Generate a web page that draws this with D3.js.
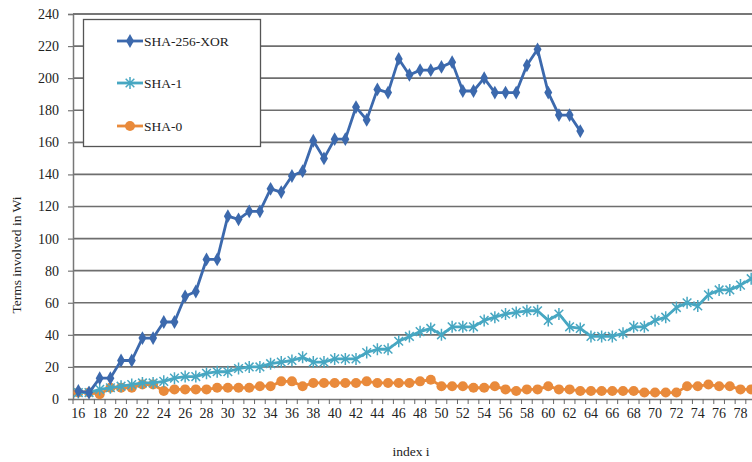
<!DOCTYPE html>
<html>
<head>
<meta charset="utf-8">
<script src="https://cdn.jsdelivr.net/npm/d3@7/dist/d3.min.js"></script>
<style>
  html, body { margin: 0; padding: 0; background: #fff; }
  svg { display: block; }
  svg text { font-family: "Liberation Serif", "Times New Roman", Times, "DejaVu Serif", serif !important; }
</style>
</head>
<body>
<svg id="chart" width="752" height="462"></svg>
<script>
// Index i along the x axis (16..79)
const indices = d3.range(16, 80);

// Number of terms involved in Wi, per index
const sha256xor = [5, 4, 13, 13, 24, 24, 38, 38, 48, 48, 64, 67, 87, 87, 114, 112,
  117, 117, 131, 129, 139, 142, 161, 150, 162, 162, 182, 174, 193, 191, 212, 202,
  205, 205, 207, 210, 192, 192, 200, 191, 191, 191, 208, 218, 191, 177, 177, 167];

const sha1 = [4, 4, 6, 7, 8, 9, 10, 10, 11, 13, 14, 14, 16, 17, 17, 19,
  20, 20, 22, 23, 24, 26, 23, 23, 25, 25, 25, 29, 31, 31, 36, 39,
  42, 44, 40, 45, 45, 45, 49, 51, 53, 54, 55, 55, 49, 53, 45, 44,
  39, 39, 39, 41, 45, 45, 49, 51, 57, 60, 58, 65, 68, 68, 71, 75];

const sha0 = [4, 4, 3, 7, 7, 7, 9, 9, 5, 6, 6, 6, 6, 7, 7, 7,
  7, 8, 8, 11, 11, 8, 10, 10, 10, 10, 10, 11, 10, 10, 10, 10,
  11, 12, 8, 8, 8, 7, 7, 8, 6, 5, 6, 6, 8, 6, 6, 5,
  5, 5, 5, 5, 5, 4, 4, 4, 4, 8, 8, 9, 8, 8, 6, 6];

const yTicks = d3.range(0, 241, 20);
const seriesNames = ["SHA-256-XOR", "SHA-1", "SHA-0"];
const seriesColors = ["#3c69ad", "#47a7c2", "#e98a3b"];

const serif = "'Liberation Serif', 'Times New Roman', Times, 'DejaVu Serif', serif";

const svg = d3.select("#chart");

const plot = { left: 73, top: 14, right: 756.5, bottom: 399 };

const x = d3.scaleBand()
  .domain(indices)
  .range([plot.left, plot.right])
  .padding(0);

const y = d3.scaleLinear()
  .domain([0, 240])
  .range([plot.bottom, plot.top]);

const cx = d => x(d) + x.bandwidth() / 2;

// Horizontal gridlines
svg.append("g")
  .selectAll("line")
  .data(yTicks.filter(v => v > 0))
  .join("line")
  .attr("x1", plot.left)
  .attr("x2", 752)
  .attr("y1", d => y(d))
  .attr("y2", d => y(d))
  .attr("stroke", "#6e6e6e")
  .attr("stroke-width", 1.6);

// Y axis
const yAxis = svg.append("g")
  .attr("transform", `translate(${plot.left},0)`)
  .call(d3.axisLeft(y).tickValues(yTicks).tickSize(5).tickPadding(9).tickFormat(d3.format("d")));
yAxis.attr("font-family", serif).attr("font-size", 14);
yAxis.select(".domain").attr("stroke", "#777").attr("stroke-width", 1.5);
yAxis.selectAll(".tick line").attr("stroke", "#777").attr("stroke-width", 1.2);
yAxis.selectAll("text").attr("fill", "#222");

// X axis: labels on every second index, tick marks on category boundaries
const xAxis = svg.append("g")
  .attr("transform", `translate(0,${plot.bottom})`)
  .call(d3.axisBottom(x)
    .tickValues(indices.filter(d => d % 2 === 0))
    .tickSize(0)
    .tickPadding(9));
xAxis.attr("font-family", serif).attr("font-size", 14);
xAxis.select(".domain").attr("stroke", "#777").attr("stroke-width", 1.5);
xAxis.selectAll("text").attr("fill", "#222");

svg.append("g")
  .selectAll("line")
  .data(indices)
  .join("line")
  .attr("x1", d => x(d))
  .attr("x2", d => x(d))
  .attr("y1", plot.bottom)
  .attr("y2", plot.bottom + 5)
  .attr("stroke", "#666")
  .attr("stroke-width", 1);

// Axis titles
svg.append("text")
  .attr("transform", `translate(21,255) rotate(-90)`)
  .attr("text-anchor", "middle")
  .attr("fill", "#222")
  .attr("font-family", serif)
  .attr("font-size", 13.5)
  .text("Terms involved in Wi");

svg.append("text")
  .attr("x", 411)
  .attr("y", 456)
  .attr("text-anchor", "middle")
  .attr("fill", "#222")
  .attr("font-family", serif)
  .attr("font-size", 13.5)
  .text("index i");

// Marker shapes
const diamond = d3.symbol().type(d3.symbolDiamond).size(55);
function starPath(r) {
  const a = r * 0.72;
  return `M${-a},${-a}L${a},${a}M${-a},${a}L${a},${-a}M0,${-r}L0,${r}`;
}

const line = d3.line().x(d => cx(d[0])).y(d => y(d[1]));

function addMarker(sel, marker, color) {
  if (marker === "diamond") {
    sel.append("path").attr("d", diamond()).attr("fill", color);
  } else if (marker === "star") {
    sel.append("path").attr("d", starPath(6)).attr("stroke", color)
      .attr("stroke-width", 1.5).attr("fill", "none");
  } else {
    sel.append("circle").attr("r", 5).attr("fill", color);
  }
}

function drawSeries(values, color, marker) {
  const pts = values.map((v, i) => [indices[i], v]);
  const g = svg.append("g");
  g.append("path")
    .datum(pts)
    .attr("d", line)
    .attr("fill", "none")
    .attr("stroke", color)
    .attr("stroke-width", 2.8)
    .attr("stroke-linejoin", "round");
  const m = g.selectAll(".m").data(pts).join("g")
    .attr("transform", d => `translate(${cx(d[0])},${y(d[1])})`);
  addMarker(m, marker, color);
}

drawSeries(sha0, seriesColors[2], "circle");
drawSeries(sha1, seriesColors[1], "star");
drawSeries(sha256xor, seriesColors[0], "diamond");

// Top border of plot area
svg.append("line")
  .attr("x1", plot.left).attr("x2", 752)
  .attr("y1", plot.top).attr("y2", plot.top)
  .attr("stroke", "#6e6e6e").attr("stroke-width", 1.6);

// Legend
const legend = svg.append("g");
legend.append("rect")
  .attr("x", 83.5).attr("y", 19.5)
  .attr("width", 177).attr("height", 127)
  .attr("fill", "#fff")
  .attr("stroke", "#555")
  .attr("stroke-width", 1.3);

const legendY = [41, 83, 126];
const markers = ["diamond", "star", "circle"];
seriesNames.forEach((name, i) => {
  const gy = legendY[i];
  legend.append("line")
    .attr("x1", 117).attr("x2", 143)
    .attr("y1", gy).attr("y2", gy)
    .attr("stroke", seriesColors[i]).attr("stroke-width", 2.8);
  addMarker(legend.append("g").attr("transform", `translate(130,${gy})`), markers[i], seriesColors[i]);
  legend.append("text")
    .attr("x", 144).attr("y", gy + 4.5)
    .attr("fill", "#222")
    .attr("font-family", serif)
    .attr("font-size", 13.5)
    .text(name);
});
</script>
</body>
</html>
